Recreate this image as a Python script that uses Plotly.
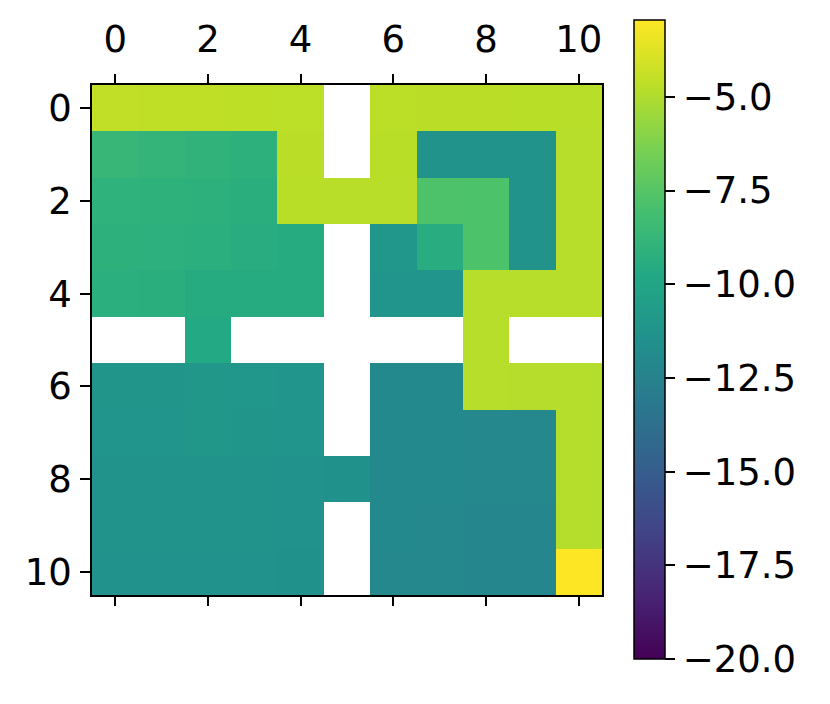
import plotly.graph_objects as go

nan = None

# grid values (row 0 at top), None = missing cell
row_labels = list(range(11))
col_labels = list(range(11))
values = [
    [-4.55, -4.60, -4.62, -4.65, -4.68, nan, -4.70, -4.72, -4.73, -4.75, -4.78],
    [-8.70, -8.85, -9.00, -9.15, -4.72, nan, -4.75, -11.30, -11.30, -11.30, -4.80],
    [-9.05, -9.10, -9.15, -9.30, -4.75, -4.77, -4.78, -7.75, -7.80, -11.30, -4.80],
    [-9.15, -9.20, -9.25, -9.45, -9.55, nan, -11.10, -9.45, -7.80, -11.30, -4.82],
    [-9.25, -9.30, -9.55, -9.55, -9.55, nan, -11.20, -11.20, -4.82, -4.83, -4.83],
    [nan, nan, -9.70, nan, nan, nan, nan, nan, -4.83, nan, nan],
    [-11.15, -11.15, -11.00, -11.10, -11.20, nan, -12.00, -12.00, -4.83, -4.84, -4.85],
    [-11.20, -11.20, -11.05, -11.15, -11.25, nan, -12.00, -12.05, -12.10, -12.10, -4.85],
    [-11.30, -11.30, -11.30, -11.30, -11.40, -11.50, -12.05, -12.05, -12.10, -12.10, -4.86],
    [-11.35, -11.35, -11.35, -11.35, -11.40, nan, -12.05, -12.10, -12.15, -12.15, -4.87],
    [-11.40, -11.40, -11.40, -11.40, -11.45, nan, -12.10, -12.10, -12.15, -12.15, -2.95],
]
cbar_ticks = [-5.0, -7.5, -10.0, -12.5, -15.0, -17.5, -20.0]
axis_ticks = [0, 2, 4, 6, 8, 10]

# matplotlib viridis, sampled every 0.1
viridis = [
    [0.0, "#440154"], [0.1, "#482475"], [0.2, "#414487"], [0.3, "#355f8d"],
    [0.4, "#2a788e"], [0.5, "#21918c"], [0.6, "#22a884"], [0.7, "#44bf70"],
    [0.8, "#7ad151"], [0.9, "#bddf26"], [1.0, "#fde725"],
]

# page body has an 8px margin, so the figure is placed at (8, 8)
W, H = 822, 696
OFF = 8
font = dict(family="DejaVu Sans", size=37, color="black")

fig = go.Figure()
fig.add_trace(go.Heatmap(
    z=values, x=col_labels, y=row_labels,
    colorscale=viridis, zmin=-20, zmax=-2.95,
    colorbar=dict(
        x=(634 - OFF) / W, xanchor="left", xpad=0, ypad=0,
        y=(H - (659 - OFF)) / H, yanchor="bottom", len=(659 - 20) / H, lenmode="fraction",
        thickness=31, outlinecolor="black", outlinewidth=1.5,
        tickvals=cbar_ticks, tickformat=".1f", tickprefix="\u2004", ticks="outside",
        ticklen=10, tickwidth=1.5, tickcolor="black", tickfont=font,
    ),
))

# axes frame like imshow: labels on top, ticks on both x sides
fig.update_xaxes(
    domain=[(92 - OFF) / W, (602 - OFF) / W], range=[-0.5, 10.5], side="top",
    tickvals=axis_ticks, ticks="outside", ticklen=9, tickwidth=1.5, tickcolor="black",
    showline=True, linecolor="black", linewidth=1.5, mirror="ticks",
    showgrid=False, zeroline=False, tickfont=font, ticklabelstandoff=7,
)
fig.update_yaxes(
    domain=[(H - (595 - OFF)) / H, (H - (85 - OFF)) / H], range=[10.5, -0.5],
    tickvals=axis_ticks, ticks="outside", ticklen=10, tickwidth=1.5, tickcolor="black",
    showline=True, linecolor="black", linewidth=1.5, mirror=True,
    showgrid=False, zeroline=False, tickfont=font, ticklabelstandoff=1,
)
fig.update_layout(
    width=W, height=H, margin=dict(l=0, r=0, t=0, b=0),
    paper_bgcolor="white", plot_bgcolor="white", font=font,
)
fig.write_html("out.html")
